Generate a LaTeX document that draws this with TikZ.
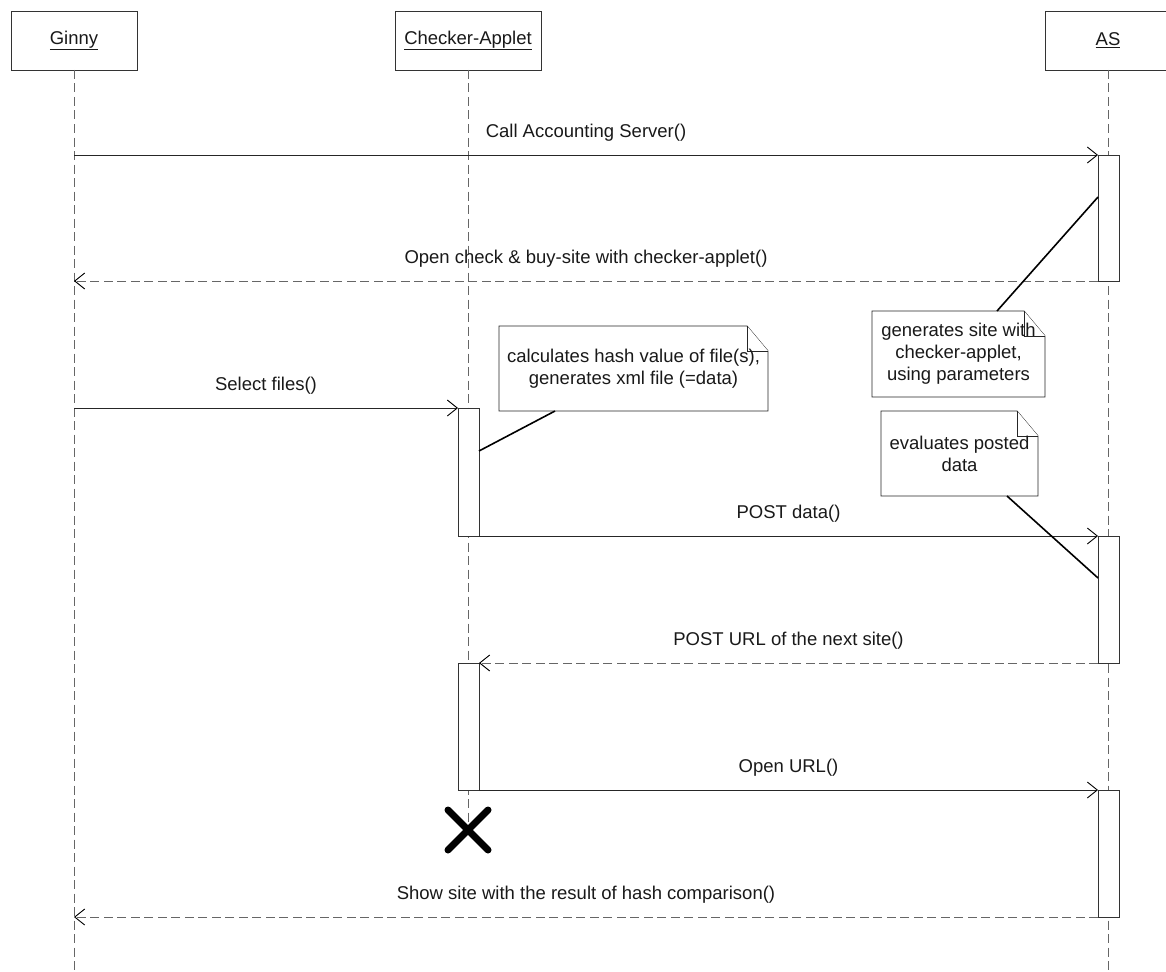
\documentclass[tikz,border=0pt]{standalone}
\usepackage{fontspec}
\setmainfont{Liberation Sans}
\usetikzlibrary{arrows.meta}

% dog-eared outline around a note node: #1 = node name
\newcommand\dogear[1]{%
  \draw[noteline] (#1.south west) -- (#1.north west) -- ([xshift=-21pt]#1.north east)
        -- ([yshift=-25pt]#1.north east) -- (#1.south east) -- cycle;
  \draw[noteline] ([xshift=-21pt]#1.north east) |- ([yshift=-25pt]#1.north east);
}

\begin{document}
\begin{tikzpicture}[x=1pt,y=-1pt,
  every node/.style={font=\fontsize{18.5}{22}\selectfont, inner sep=0pt, outer sep=0pt, text=black!90},
  head/.style={draw=black!80, line width=0.9pt, fill=white, minimum height=59pt, anchor=north},
  life/.style={draw=black!60, line width=0.9pt, dash pattern=on 9pt off 4.5pt},
  bar/.style={draw=black!80, fill=white, line width=0.9pt, minimum width=21pt, anchor=north west},
  msg/.style={draw=black!85, line width=0.9pt,
              -{Straight Barb[length=10pt,width=16pt,line width=0.9pt,color=black]}},
  ret/.style={msg, draw=black!60, dash pattern=on 9pt off 4.5pt},
  lbl/.style={midway, anchor=base, yshift=18pt},
  note/.style={align=center},
  noteline/.style={draw=black!85, line width=0.9pt, fill=white},
  link/.style={draw=black, line width=1.6pt},
  xmark/.style={draw=black, line width=7pt, line cap=round}
]
\useasboundingbox (0,0) rectangle (1166,971);
\coordinate (bottom) at (0,971);
\coordinate (kill) at (468,830);

% participants
\node[head, minimum width=126pt] (ginny) at (74,11) {\underline{Ginny}};
\node[head, minimum width=146pt] (checker) at (468,11) {\underline{Checker-Applet}};
\node[head, minimum width=126pt] (as) at (1108,11) {\underline{AS}};

% lifelines
\draw[life] (ginny.south) -- (ginny.south |- bottom);
\draw[life] (checker.south) -- (kill);
\draw[life] (as.south) -- (as.south |- bottom);

% activation bars
\node[bar, minimum height=126pt] (as1) at (1098,155) {};
\node[bar, minimum height=128pt] (cb1) at (458,408) {};
\node[bar, minimum height=127pt] (as2) at (1098,536) {};
\node[bar, minimum height=127pt] (cb2) at (458,663) {};
\node[bar, minimum height=127pt] (as3) at (1098,790) {};

% messages
\draw[msg] (ginny |- as1.north west) -- (as1.north west)
  node[lbl] {Call Accounting Server()};
\draw[ret] (as1.south west) -- (ginny |- as1.south west)
  node[lbl] {Open check \& buy-site with checker-applet()};
\draw[msg] (ginny |- cb1.north west) -- (cb1.north west)
  node[lbl] {Select files()};
\draw[msg] (cb1.south east) -- (as2.north west)
  node[lbl] {POST data()};
\draw[ret] (as2.south west) -- (cb2.north east)
  node[lbl] {POST URL of the next site()};
\draw[msg] (cb2.south east) -- (as3.north west)
  node[lbl] {Open URL()};
\draw[ret] (as3.south west) -- (ginny |- as3.south west)
  node[lbl] {Show site with the result of hash comparison()};

% destruction of the applet
\draw[xmark] ([shift={(-20,-20)}]kill) -- ([shift={(20,20)}]kill);
\draw[xmark] ([shift={(-20,20)}]kill) -- ([shift={(20,-20)}]kill);

% notes
\node[note, minimum width=173pt, minimum height=86pt] (n1) at (958.5,354) {};
\dogear{n1}
\node[note] at (n1) {generates site with\\checker-applet,\\using parameters};
\node[note, minimum width=269pt, minimum height=85pt] (n2) at (633.5,368.5) {};
\dogear{n2}
\node[note] at (n2) {calculates hash value of file(s),\\generates xml file (=data)};
\node[note, minimum width=157pt, minimum height=85pt] (n3) at (959.5,453.5) {};
\dogear{n3}
\node[note] at (n3) {evaluates posted\\data};

% note anchors
\draw[link] ([xshift=125pt]n1.north west) -- ([yshift=-42pt]as1.north west);
\draw[link] ([xshift=56pt]n2.south west) -- ([yshift=-43pt]cb1.north east);
\draw[link] ([xshift=126pt]n3.south west) -- ([yshift=-42pt]as2.north west);
\end{tikzpicture}
\end{document}
